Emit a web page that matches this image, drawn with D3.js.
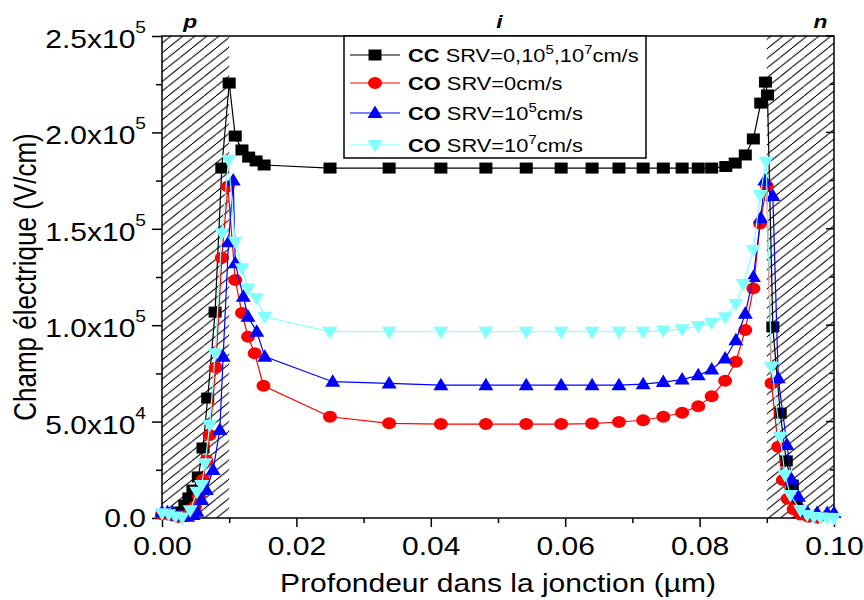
<!DOCTYPE html>
<html><head><meta charset="utf-8">
<script src="https://cdn.jsdelivr.net/npm/d3@7"></script>
<style>body{margin:0;background:#fff}svg{display:block}text{font-family:Arial,"Liberation Sans",sans-serif;fill:#000}</style>
</head><body><svg id="c" width="864" height="600"></svg>
<script>
// ---- data ----
const ccX=[0.0022,0.0028,0.0034,0.0040,0.0046,0.0054,0.0061,0.0068,0.0079,0.0089,0.0100,0.0109,0.0119,0.0129,0.0140,0.0152,0.0250,0.0338,0.0415,0.0482,0.0542,0.0594,0.0640,0.0680,0.0716,0.0746,0.0774,0.0798,0.0818,0.0839,0.0853,0.0868,0.0880,0.0891,0.0898,0.0901,0.0909,0.0920,0.0929,0.0938,0.0943,0.0950];
const ccY=[1200,3100,6700,10400,14500,21300,36300,62200,106800,181500,225600,198100,190900,187200,185200,183100,181500,181500,181500,181500,181500,181500,181500,181500,181500,181500,181500,181500,181500,182300,184100,188300,196600,215200,226100,219400,99100,54400,29600,17100,7800,2500];
const co0X=[0.0000,0.0012,0.0024,0.0034,0.0042,0.0049,0.0055,0.0061,0.0066,0.0071,0.0080,0.0089,0.0098,0.0109,0.0119,0.0128,0.0138,0.0151,0.0250,0.0338,0.0415,0.0482,0.0542,0.0594,0.0640,0.0680,0.0716,0.0746,0.0774,0.0798,0.0818,0.0838,0.0854,0.0868,0.0880,0.0890,0.0900,0.0907,0.0917,0.0924,0.0931,0.0940,0.0950,0.0962,0.0976];
const co0Y=[2000,1500,500,900,2500,6000,11000,20000,30000,43000,78000,135000,172000,123500,106300,94000,85400,68600,52500,49100,48700,48700,48700,48700,49000,49800,50700,52500,54600,58000,63200,71200,81100,97500,119100,152800,172200,69900,37000,19700,10000,4500,1800,600,100];
const co5X=[0.0000,0.0008,0.0016,0.0026,0.0038,0.0046,0.0052,0.0059,0.0066,0.0076,0.0086,0.0091,0.0099,0.0106,0.0109,0.0121,0.0128,0.0141,0.0153,0.0254,0.0338,0.0415,0.0482,0.0542,0.0594,0.0640,0.0680,0.0716,0.0746,0.0774,0.0798,0.0818,0.0838,0.0854,0.0868,0.0880,0.0891,0.0897,0.0909,0.0917,0.0930,0.0937,0.0947,0.0960,0.0975,0.0990,0.1000];
const co5Y=[3000,3000,2800,1200,600,1500,3300,9300,14500,24900,45600,83700,143000,175000,132100,114800,104400,96600,83700,70700,69800,68900,68900,68900,68900,68900,68900,69400,70500,71800,74000,77000,82700,92200,106000,125000,155600,175000,167000,72500,37900,20000,11000,3300,2600,2600,2600];
const co7X=[0.0000,0.0010,0.0020,0.0030,0.0042,0.0052,0.0059,0.0064,0.0071,0.0079,0.0089,0.0099,0.0109,0.0119,0.0128,0.0141,0.0153,0.0250,0.0338,0.0415,0.0482,0.0542,0.0594,0.0640,0.0680,0.0716,0.0746,0.0774,0.0798,0.0818,0.0838,0.0854,0.0865,0.0880,0.0890,0.0899,0.0907,0.0920,0.0927,0.0935,0.0950,0.0960,0.0970,0.0980,0.0990,0.1000];
const co7Y=[2500,2000,800,300,4000,13600,17100,28400,48200,85400,147700,185700,143300,129500,119100,114000,104400,96600,96600,96600,96600,96600,96600,96600,96600,96600,97200,97900,99600,101300,104100,111000,121400,139000,167500,184800,78500,42200,22300,11900,4100,1500,500,200,100,0];

const xTicks=[0,0.02,0.04,0.06,0.08,0.10];
const xTickLabels=["0.00","0.02","0.04","0.06","0.08","0.10"];
const yTicks=[0,50000,100000,150000,200000,250000];
const yTickMant=["0.0","5.0x10","1.0x10","1.5x10","2.0x10","2.5x10"];
const yTickExp=["","4","5","5","5","5"];
const regionLabels=["p","i","n"];
const regionPos=[0.0042,0.0502,0.0980];
const hatchRanges=[[0,0.01],[0.09,0.10]];
const xTitle="Profondeur dans la jonction (µm)";
const yTitle="Champ électrique (V/cm)";
const legendBold=["CC","CO","CO","CO"];
const legendParts=[
  [["SRV=0,10",0],["5",1],[",10",0],["7",1],["cm/s",0]],
  [["SRV=0cm/s",0]],
  [["SRV=10",0],["5",1],["cm/s",0]],
  [["SRV=10",0],["7",1],["cm/s",0]]
];

// ---- setup ----
const SX=1.2, LSX=1.15;
const svg=d3.select("#c");
const x=d3.scaleLinear().domain([0,0.1]).range([162,834]);
const y=d3.scaleLinear().domain([0,250000]).range([518,36]);

const defs=svg.append("defs");
const pat=defs.append("pattern").attr("id","hatch").attr("patternUnits","userSpaceOnUse")
  .attr("width",12).attr("height",9.6);
[[0,9.6,12,0],[-12,9.6,0,0],[12,9.6,24,0]].forEach(l=>{
  pat.append("line").attr("x1",l[0]).attr("y1",l[1]).attr("x2",l[2]).attr("y2",l[3])
    .attr("stroke","#000").attr("stroke-width",1);
});
hatchRanges.forEach(r=>{
  svg.append("rect").attr("x",x(r[0])).attr("y",y(250000)).attr("width",x(r[1])-x(r[0]))
    .attr("height",y(0)-y(250000)).attr("fill","url(#hatch)");
});

// axes
const gx=svg.append("g").attr("transform",`translate(0,${y(0)})`)
  .call(d3.axisBottom(x).tickValues(xTicks).tickSize(9).tickPadding(10).tickFormat((d,i)=>xTickLabels[i]));
const gxm=svg.append("g").attr("transform",`translate(0,${y(0)})`)
  .call(d3.axisBottom(x).tickValues([0.01,0.03,0.05,0.07,0.09]).tickSize(5).tickFormat(""));
const gy=svg.append("g").attr("transform",`translate(${x(0)},0)`)
  .call(d3.axisLeft(y).tickValues(yTicks).tickSize(10).tickFormat(""));
const gym=svg.append("g").attr("transform",`translate(${x(0)},0)`)
  .call(d3.axisLeft(y).tickValues([25000,75000,125000,175000,225000]).tickSize(6).tickFormat(""));
const grm=svg.append("g");
yTicks.forEach(v=>grm.append("line").attr("x1",x(0.1)).attr("x2",x(0.1)-8).attr("y1",y(v)).attr("y2",y(v)).attr("stroke","#000").attr("stroke-width",1.5));
[25000,75000,125000,175000,225000].forEach(v=>grm.append("line").attr("x1",x(0.1)).attr("x2",x(0.1)-4).attr("y1",y(v)).attr("y2",y(v)).attr("stroke","#000").attr("stroke-width",1.5));
[gx,gxm,gy,gym].forEach(g=>{g.select(".domain").remove();g.selectAll("line").attr("stroke-width",1.5);});
gx.selectAll("text").attr("font-size",25).attr("font-family","Arial, Liberation Sans, sans-serif").attr("fill","#000")
  .attr("transform",`scale(${SX},1)`);

// y tick labels
yTicks.forEach((v,i)=>{
  const g=svg.append("g").attr("transform",`translate(146,${y(v)}) scale(${SX},1)`);
  const t=g.append("text").attr("text-anchor","end").attr("font-size",25).attr("y",yTickExp[i]?12:9);
  t.append("tspan").text(yTickMant[i]);
  if(yTickExp[i]) t.append("tspan").attr("font-size",16).attr("dy",-15).text(yTickExp[i]);
});

// frame
svg.append("rect").attr("x",x(0)).attr("y",y(250000)).attr("width",x(0.1)-x(0)).attr("height",y(0)-y(250000))
  .attr("fill","none").attr("stroke","#000").attr("stroke-width",1.5);

// series
const symbolFns={
  square:(g,c)=>g.append("rect").attr("x",-6.5).attr("y",-5.5).attr("width",13).attr("height",11).attr("fill",c),
  circle:(g,c)=>g.append("ellipse").attr("rx",7).attr("ry",6).attr("fill",c),
  up:(g,c)=>g.append("path").attr("d","M0,-7.5L7.5,5L-7.5,5Z").attr("fill",c),
  down:(g,c)=>g.append("path").attr("d","M0,7.5L7.5,-5L-7.5,-5Z").attr("fill",c)
};
const seriesDefs=[
  {X:ccX,Y:ccY,c:"#000000",s:"square"},
  {X:co0X,Y:co0Y,c:"#ff0000",s:"circle"},
  {X:co5X,Y:co5Y,c:"#0000ff",s:"up"},
  {X:co7X,Y:co7Y,c:"#80ffff",s:"down"}
];
const line=d3.line().x(d=>x(d[0])).y(d=>y(d[1]));
seriesDefs.forEach(sd=>{
  const pts=sd.X.map((v,i)=>[v,sd.Y[i]]);
  svg.append("path").datum(pts).attr("d",line).attr("fill","none").attr("stroke",sd.c).attr("stroke-width",1.2);
  pts.forEach(p=>{
    const g=svg.append("g").attr("transform",`translate(${x(p[0])},${y(p[1])})`);
    symbolFns[sd.s](g,sd.c);
  });
});

// legend
const lg=svg.append("g");
lg.append("rect").attr("x",344).attr("y",36).attr("width",302).attr("height",122).attr("fill","#fff").attr("stroke","#000").attr("stroke-width",1.5);
const rowY=[55,83,113,145];
seriesDefs.forEach((sd,i)=>{
  lg.append("line").attr("x1",350).attr("x2",400).attr("y1",rowY[i]).attr("y2",rowY[i]).attr("stroke",sd.c).attr("stroke-width",1.2);
  const g=lg.append("g").attr("transform",`translate(375,${rowY[i]})`);
  symbolFns[sd.s](g,sd.c);
  const tg=lg.append("g").attr("transform",`translate(408,${rowY[i]+7}) scale(${LSX},1)`);
  const t=tg.append("text").attr("font-size",19);
  t.append("tspan").attr("font-weight","bold").text(legendBold[i]+" ");
  let prevSup=false;
  legendParts[i].forEach(p=>{
    if(p[1]){ t.append("tspan").attr("font-size",13).attr("dy",-8).text(p[0]); prevSup=true; }
    else { t.append("tspan").attr("font-size",19).attr("dy",prevSup?8:0).text(p[0]); prevSup=false; }
  });
});

// region labels
regionLabels.forEach((l,i)=>{
  svg.append("g").attr("transform",`translate(${x(regionPos[i])},28) scale(${SX},1)`)
    .append("text").attr("text-anchor","middle").attr("font-size",19).attr("font-weight","bold").attr("font-style","italic").text(l);
});

// titles
svg.append("g").attr("transform",`translate(498,592) scale(${SX},1)`)
  .append("text").attr("text-anchor","middle").attr("font-size",25).text(xTitle);
svg.append("g").attr("transform",`translate(36,277) scale(${SX},1) rotate(-90)`)
  .append("text").attr("text-anchor","middle").attr("font-size",26).text(yTitle);
</script></body></html>
